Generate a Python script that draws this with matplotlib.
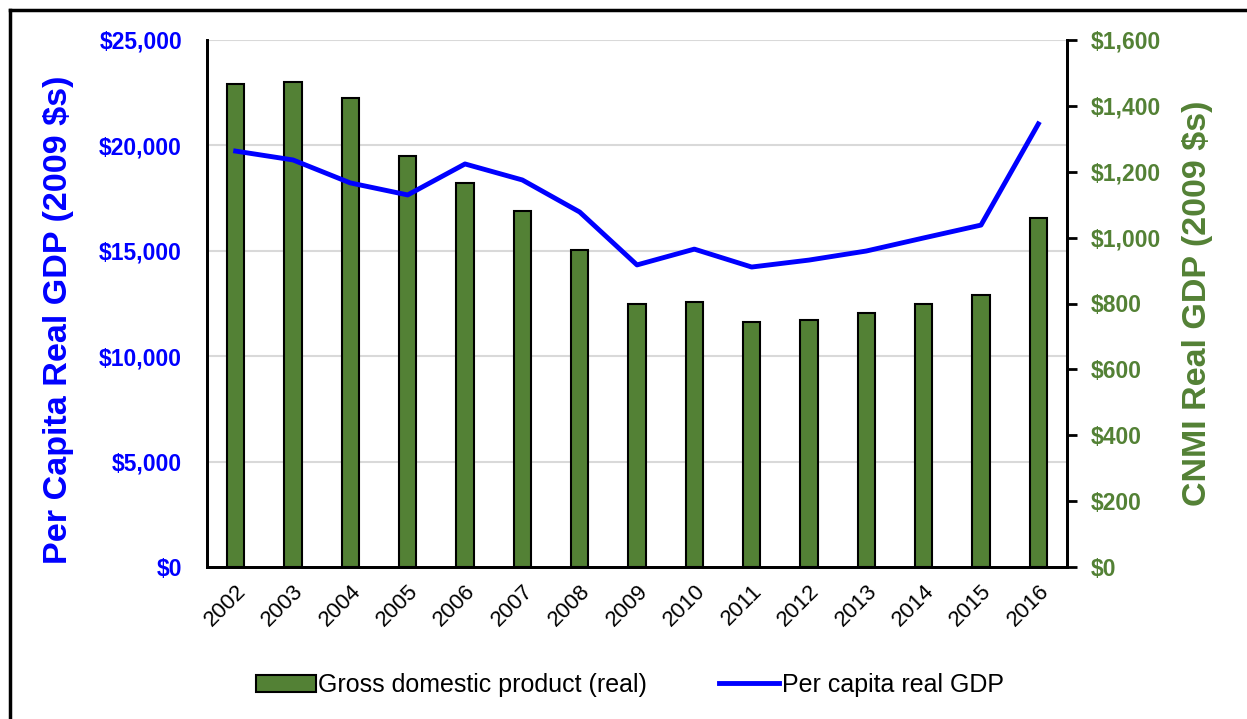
import numpy as np
import matplotlib
matplotlib.use("Agg")
import matplotlib.pyplot as plt
from matplotlib.lines import Line2D
from matplotlib.ticker import FuncFormatter

plt.rcParams['font.family'] = ['Liberation Sans', 'DejaVu Sans']

# data
years = ["2002", "2003", "2004", "2005", "2006", "2007", "2008", "2009",
         "2010", "2011", "2012", "2013", "2014", "2015", "2016"]
gdp_real = [1466, 1472, 1424, 1248, 1166, 1081, 962, 798,
            804, 744, 750, 771, 798, 826, 1059]
per_capita = [19730, 19310, 18220, 17650, 19120, 18360, 16840, 14330,
              15080, 14230, 14560, 14990, 15610, 16220, 21020]

blue = "#0000ff"
green = "#538135"

fig = plt.figure(figsize=(12.47, 7.19), dpi=100)
ax2 = fig.add_axes([207/1247, 1-567/719, 860/1247, 527/719])  # bars, right scale
ax = ax2.twinx()
ax2.yaxis.tick_right()
ax2.yaxis.set_label_position("right")
ax.yaxis.tick_left()
ax.yaxis.set_label_position("left")

x = np.arange(len(years))
ax2.bar(x, gdp_real, width=0.3, color=green, edgecolor="black", linewidth=1.5,
        label="Gross domestic product (real)", zorder=3)
ax.plot(x, per_capita, color=blue, linewidth=3.5, label="Per capita real GDP",
        zorder=4)

ax2.set_xlim(-0.5, len(years) - 0.5)
ax2.set_ylim(0, 1600)
ax2.set_yticks(np.arange(0, 1601, 200))
ax.set_ylim(0, 25000)
ax.set_yticks(np.arange(0, 25001, 5000))

# gridlines follow the left scale
for v in np.arange(5000, 25001, 5000):
    ax2.axhline(v * 1600 / 25000, color="#d9d9d9", linewidth=1.5, zorder=0)

ax.yaxis.set_major_formatter(FuncFormatter(lambda v, p: "${:,.0f}".format(v)))
ax2.yaxis.set_major_formatter(FuncFormatter(lambda v, p: "${:,.0f}".format(v)))

for a in (ax, ax2):
    a.spines["top"].set_visible(False)
    a.spines["left"].set_linewidth(2)
    a.spines["right"].set_linewidth(2)
    a.spines["bottom"].set_linewidth(2)

ax.tick_params(axis="y", length=0, pad=18, labelsize=16.5, labelcolor=blue)
for t in ax.get_yticklabels():
    t.set_fontweight("bold")
ax2.tick_params(axis="y", length=7, width=2, direction="out", pad=10,
                labelsize=16.5, labelcolor=green)
for t in ax2.get_yticklabels():
    t.set_fontweight("bold")

ax2.set_xticks(x)
ax2.set_xticklabels(years, rotation=45, ha="right", rotation_mode="anchor",
                    fontsize=16)
ax2.tick_params(axis="x", length=0, pad=10)

ax.set_ylabel("Per Capita Real GDP (2009 $s)", color=blue, fontsize=24.6,
              fontweight="bold", labelpad=18)
ax.yaxis.label.set_y(0.469)
ax2.set_ylabel("CNMI Real GDP (2009 $s)", color=green, fontsize=24.5,
               fontweight="bold", labelpad=15)

h1, l1 = ax2.get_legend_handles_labels()
h2, l2 = ax.get_legend_handles_labels()
fig.legend(h1 + h2, l1 + l2, loc="center", bbox_to_anchor=(0.505, 1-685/719),
           ncol=2, frameon=False, fontsize=18, handlelength=2.4,
           handletextpad=0.1, columnspacing=2.9)

# outer frame (only left and top edges fall inside the picture)
fig.add_artist(Line2D([10/1247, 10/1247], [0, 1-10/719], color="black",
                      linewidth=2.5, transform=fig.transFigure))
fig.add_artist(Line2D([10/1247, 1], [1-10/719, 1-10/719], color="black",
                      linewidth=2.5, transform=fig.transFigure))

fig.savefig("out.png", dpi=100)
